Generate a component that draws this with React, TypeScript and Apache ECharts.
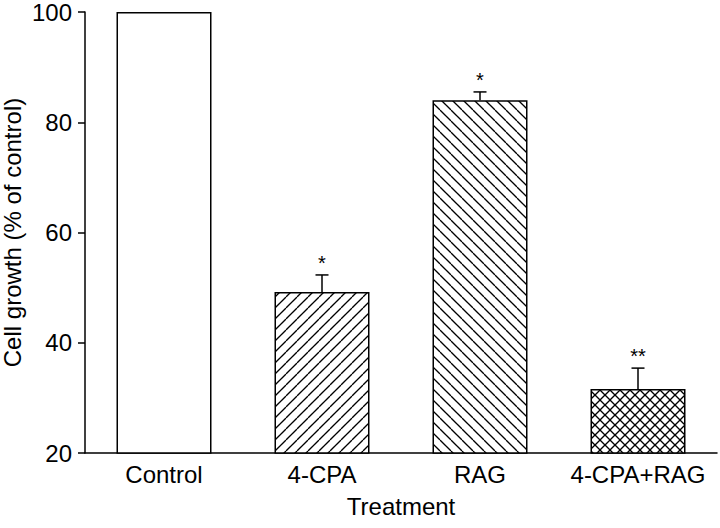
import React, { useEffect, useRef } from "react";
import * as echarts from "echarts";

const categories = ["Control", "4-CPA", "RAG", "4-CPA+RAG"];
const means = [100, 49.2, 84.0, 31.6];
const upperErrors = [0, 3.1, 1.5, 3.8];
const significance = ["", "*", "*", "**"];
const fills = ["plain", "slash", "backslash", "cross"];
const yTicks = { min: 20, max: 100, interval: 20 };

const FONT = "'Liberation Sans', Arial, Helvetica, sans-serif";

function makePattern(kind: string, s: number): any {
  if (kind === "plain") return "#ffffff";
  const c = document.createElement("canvas");
  c.width = s;
  c.height = s;
  const ctx = c.getContext("2d")!;
  ctx.fillStyle = "#ffffff";
  ctx.fillRect(0, 0, s, s);
  ctx.strokeStyle = "#000000";
  ctx.lineWidth = 1.3;
  const drawSlash = () => {
    for (const x0 of [-s, 0, s]) {
      ctx.beginPath();
      ctx.moveTo(x0, s);
      ctx.lineTo(x0 + s, 0);
      ctx.stroke();
    }
  };
  const drawBack = () => {
    for (const x0 of [-s, 0, s]) {
      ctx.beginPath();
      ctx.moveTo(x0, 0);
      ctx.lineTo(x0 + s, s);
      ctx.stroke();
    }
  };
  if (kind === "slash") drawSlash();
  if (kind === "backslash") drawBack();
  if (kind === "cross") {
    drawSlash();
    drawBack();
  }
  return { image: c, repeat: "repeat" };
}

export default function App() {
  const ref = useRef<HTMLDivElement>(null);
  useEffect(() => {
    if (!ref.current) return;
    const chart = echarts.init(ref.current, undefined, { renderer: "svg" });
    const sizes: Record<string, number> = { plain: 10, slash: 11, backslash: 11, cross: 10 };
    const barData = means.map((v, i) => ({
      value: v,
      itemStyle: { color: makePattern(fills[i], sizes[fills[i]]) },
    }));
    const errData = means.map((v, i) => [i, v, upperErrors[i]]);

    chart.setOption({
      animation: false,
      grid: {
        left: 85,
        right: 3,
        top: 12,
        bottom: 75,
        containLabel: false,
        outerBoundsMode: "none",
      },
      xAxis: {
        type: "category",
        data: categories,
        boundaryGap: true,
        name: "Treatment",
        nameLocation: "middle",
        nameGap: 41,
        nameMoveOverlap: false,
        nameTextStyle: { color: "#000", fontSize: 24, fontFamily: FONT },
        axisLine: { show: true, lineStyle: { color: "#000", width: 1.5 } },
        axisTick: { show: false },
        axisLabel: { color: "#000", fontSize: 24, fontFamily: FONT, margin: 9, interval: 0 },
        splitLine: { show: false },
      },
      yAxis: {
        type: "value",
        min: yTicks.min,
        max: yTicks.max,
        interval: yTicks.interval,
        name: "Cell growth (% of control)",
        nameLocation: "middle",
        nameGap: 61,
        nameMoveOverlap: false,
        nameRotate: 90,
        nameTextStyle: { color: "#000", fontSize: 24, fontFamily: FONT },
        axisLine: { show: true, lineStyle: { color: "#000", width: 1.5 } },
        axisTick: { show: true, inside: false, length: 7, lineStyle: { color: "#000", width: 1.5 } },
        axisLabel: { color: "#000", fontSize: 24, fontFamily: FONT, margin: 13 },
        splitLine: { show: false },
      },
      series: [
        {
          type: "bar",
          data: barData,
          barWidth: 95,
          itemStyle: { borderColor: "#000", borderWidth: 1.5 },
          silent: true,
        },
        {
          type: "custom",
          data: errData,
          silent: true,
          z: 5,
          renderItem: (params: any, api: any) => {
            const idx = params.dataIndex;
            const x = api.value(0);
            const v = api.value(1);
            const e = api.value(2);
            if (!e) return { type: "group", children: [] };
            const p0 = api.coord([x, v]);
            const p1 = api.coord([x, v + e]);
            const half = 6.5;
            return {
              type: "group",
              children: [
                {
                  type: "line",
                  shape: { x1: p0[0], y1: p0[1], x2: p1[0], y2: p1[1] },
                  style: { stroke: "#000", lineWidth: 1.5 },
                },
                {
                  type: "line",
                  shape: { x1: p1[0] - half, y1: p1[1], x2: p1[0] + half, y2: p1[1] },
                  style: { stroke: "#000", lineWidth: 1.5 },
                },
                {
                  type: "text",
                  style: {
                    text: significance[idx],
                    x: p1[0],
                    y: p1[1] - 12,
                    align: "center",
                    verticalAlign: "middle",
                    fill: "#000",
                    font: `20px ${FONT}`,
                  },
                },
              ],
            };
          },
        },
      ],
    });
    return () => chart.dispose();
  }, []);
  return (
    <div
      ref={ref}
      style={{ position: "fixed", left: 0, top: 0, width: 720, height: 528, background: "#fff" }}
    />
  );
}
